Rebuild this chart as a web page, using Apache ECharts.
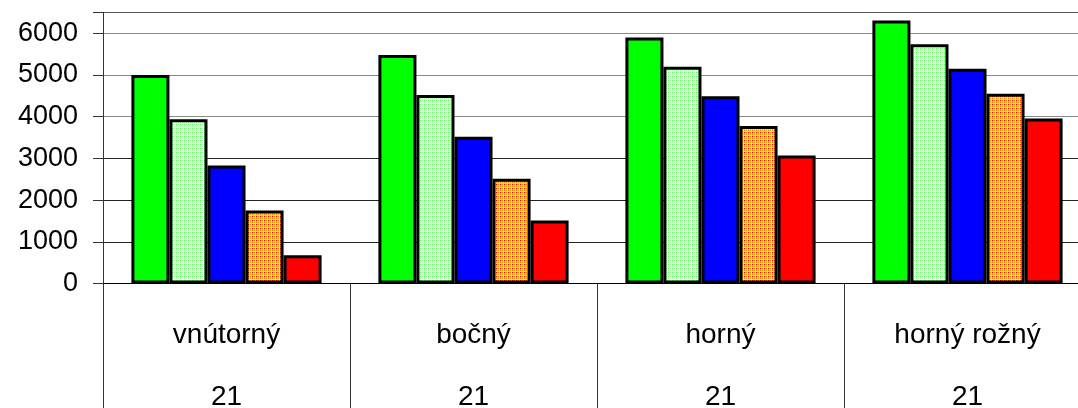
<!DOCTYPE html>
<html><head><meta charset="utf-8">
<script src="https://cdn.jsdelivr.net/npm/echarts@6/dist/echarts.min.js"></script>
<style>html,body{margin:0;padding:0;background:#fff}#c{width:1078px;height:408px}</style>
</head><body><div id="c"></div>
<script>
const categories = ['vnútorný', 'bočný', 'horný', 'horný rožný'];
const subLabels = ['21', '21', '21', '21'];
const seriesA = [5000, 5480, 5900, 6310];
const seriesB = [3940, 4520, 5200, 5740];
const seriesC = [2830, 3520, 4490, 5150];
const seriesD = [1750, 2510, 3780, 4550];
const seriesE = [680, 1510, 3070, 3960];
const yTickLabels = [0, 1000, 2000, 3000, 4000, 5000, 6000];

function makePattern(size, bg, cells) {
  const cv = document.createElement('canvas');
  cv.width = size; cv.height = size;
  const ctx = cv.getContext('2d');
  ctx.fillStyle = bg; ctx.fillRect(0, 0, size, size);
  cells.forEach(c => { ctx.fillStyle = c[2]; ctx.fillRect(c[0], c[1], 1, 1); });
  return { image: cv, repeat: 'repeat' };
}
const dotGreen = makePattern(4, '#ffffff', [
  [0, 0, '#55ff55'], [2, 0, '#99ff99'], [0, 2, '#99ff99'], [2, 2, '#bbffbb'], [1, 0, '#ccffcc'], [0, 1, '#ccffcc']
]);
const dotYellow = makePattern(4, '#ffff00', [
  [0, 0, '#ff0000'], [2, 0, '#ff8000'], [0, 2, '#ff8000'], [2, 2, '#ffa000'], [1, 0, '#ffc000'], [0, 1, '#ffc000'], [1, 2, '#ffd000'], [2, 1, '#ffd000']
]);

const border = { borderColor: '#000', borderWidth: 3 };
function bar(name, data, color) {
  return { name, type: 'bar', data, barGap: '0%', barCategoryGap: '23%',
    itemStyle: Object.assign({ color }, border), emphasis: { disabled: true } };
}

const chart = echarts.init(document.getElementById('c'), null, { renderer: 'canvas' });
chart.setOption({
  animation: false,
  backgroundColor: '#ffffff',
  grid: { left: 103, top: 12.5, width: 988, height: 271, containLabel: false, outerBoundsMode: 'none' },
  xAxis: {
    type: 'category', data: categories, boundaryGap: true,
    axisLine: { show: true, lineStyle: { color: '#000', width: 1 } },
    axisTick: { show: true, interval: 0, length: 130, lineStyle: { color: '#333', width: 1 } },
    axisLabel: { interval: 0, margin: 21, color: '#000', fontFamily: 'Liberation Sans, Arial, sans-serif',
      fontSize: 28, lineHeight: 62, formatter: (v, i) => v + '\n' + subLabels[i] },
    splitLine: { show: false }
  },
  yAxis: {
    type: 'value', min: 0, max: 6500, interval: 1000,
    axisLine: { show: true, lineStyle: { color: '#333', width: 1 } },
    axisTick: { show: true, length: 10, lineStyle: { color: '#333', width: 1 } },
    axisLabel: { margin: 25, color: '#000', fontFamily: 'Liberation Sans, Arial, sans-serif', fontSize: 27,
      formatter: v => yTickLabels.includes(v) ? String(v) : '' },
    splitLine: { show: true, lineStyle: { width: 1,
      color: ['#000', '#222', '#222', '#222', '#8a8a8a', '#8a8a8a', '#8a8a8a', '#555'] } }
  },
  series: [
    bar('A', seriesA, '#00ff00'),
    bar('B', seriesB, dotGreen),
    bar('C', seriesC, '#0000ff'),
    bar('D', seriesD, dotYellow),
    bar('E', seriesE, '#ff0000')
  ]
});
</script></body></html>
